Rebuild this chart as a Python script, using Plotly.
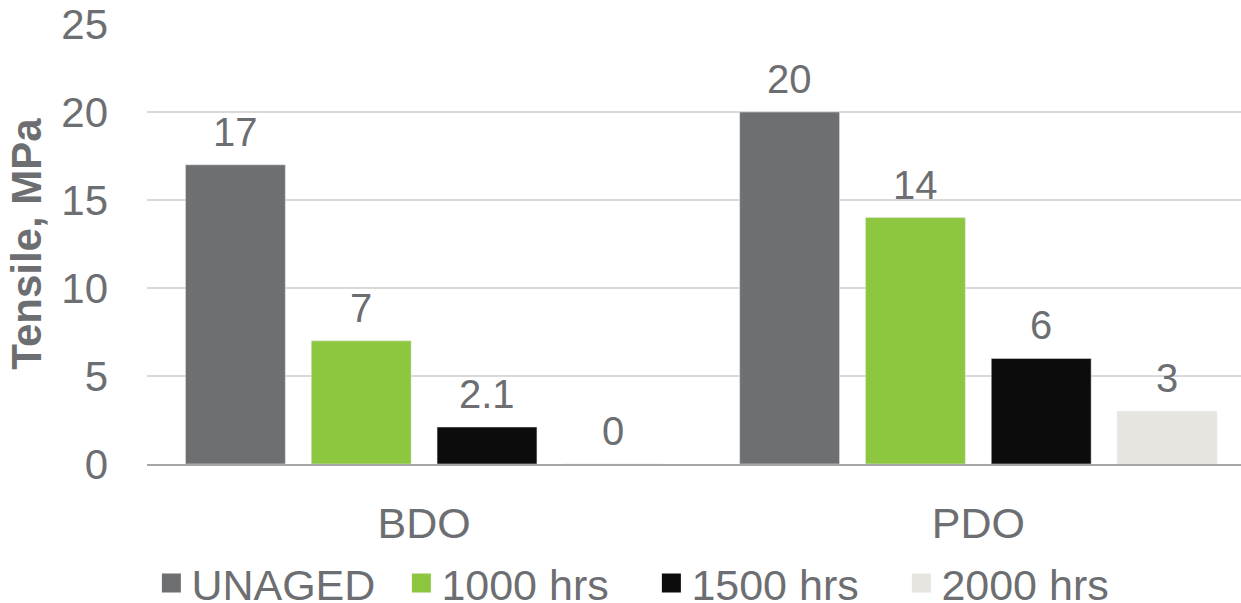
import plotly.graph_objects as go

categories = ["BDO", "PDO"]
series_names = ["UNAGED", "1000 hrs", "1500 hrs", "2000 hrs"]
unaged = [17, 20]
hrs1000 = [7, 14]
hrs1500 = [2.1, 6]
hrs2000 = [0, 3]
series_values = [unaged, hrs1000, hrs1500, hrs2000]
colors = ["#6d6f71", "#8dc63f", "#0c0c0c", "#e6e5df"]
y_ticks = [0, 5, 10, 15, 20, 25]

TXT = "#6d6e71"
FONT = "Liberation Sans, Arial, sans-serif"
SLOT_PX = 126  # pixel pitch of the grouped bars

fig = go.Figure()
n = len(series_names)
for i, (name, vals, col) in enumerate(zip(series_names, series_values, colors)):
    fig.add_trace(go.Bar(
        x=categories, y=vals, name=name, marker_color=col, showlegend=False,
    ))
    fig.add_trace(go.Scatter(
        x=[None], y=[None], mode="markers", name=name,
        marker=dict(symbol="square", size=16, color=col, line=dict(color=col, width=3)),
    ))
    for c, v in zip(categories, vals):
        fig.add_annotation(
            x=c, y=v, text=f"{v:g}", showarrow=False,
            xshift=(i - (n - 1) / 2) * SLOT_PX, yshift=33, yanchor="middle",
            font=dict(size=40, color=TXT, family=FONT),
        )

fig.update_layout(
    width=1241, height=603,
    margin=dict(l=147, r=0, t=24, b=139, autoexpand=False),
    paper_bgcolor="white", plot_bgcolor="white",
    barmode="group", bargap=0.092, bargroupgap=0.206,
    font=dict(family=FONT, color=TXT, size=40),
    showlegend=True,
    legend=dict(orientation="h", x=0.004, xanchor="left", y=20 / 603, yref="container",
                yanchor="middle", bgcolor="rgba(0,0,0,0)",
                font=dict(size=43, color=TXT), itemsizing="trace",
                entrywidth=205, entrywidthmode="pixels", itemwidth=30),
    xaxis=dict(range=[-0.5, 1.474], showgrid=False, showline=True, linecolor="#a6a6a6",
               linewidth=2, ticks="", tickfont=dict(size=43, color=TXT),
               ticklabelstandoff=20),
    yaxis=dict(range=[0, 25], tickvals=y_ticks, showgrid=True, gridcolor="#d9d9d9",
               gridwidth=1.5, zeroline=False, ticks="", tickfont=dict(size=42, color=TXT),
               ticklabelstandoff=38,
               title=dict(text="<b>Tensile, MPa</b>", font=dict(size=42, color=TXT), standoff=6)),
)

fig.write_html("out.html")
